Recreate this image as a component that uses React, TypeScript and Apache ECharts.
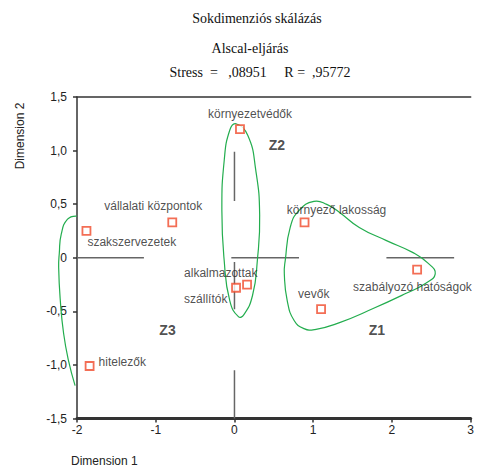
import React, { useEffect, useRef } from "react";
import * as echarts from "echarts";

// ---- data ----
const names = [
  "környezetvédők",
  "vállalati központok",
  "szakszervezetek",
  "hitelezők",
  "környező lakosság",
  "szabályozó hatóságok",
  "vevők",
  "alkalmazottak",
  "szállítók",
];
const dim1 = [0.07, -0.79, -1.88, -1.84, 0.89, 2.32, 1.1, 0.16, 0.02];
const dim2 = [1.2, 0.33, 0.25, -1.01, 0.33, -0.11, -0.48, -0.25, -0.28];

const clusterNames = ["Z1", "Z2", "Z3"];
const clusterX = [1.81, 0.54, -0.85];
const clusterY = [-0.67, 1.05, -0.67];

// outlines of clusters
const z2Outline = [
  [0.02, 1.25], [0.17, 1.14], [0.27, 0.82], [0.32, 0.4], [0.29, -0.03],
  [0.23, -0.35], [0.12, -0.53], [0.05, -0.55], [-0.06, -0.4], [-0.13, -0.03],
  [-0.16, 0.44], [-0.13, 0.91], [-0.06, 1.19],
];
const z1Outline = [
  [0.645, -0.025], [0.708, 0.283], [0.821, 0.442], [1.009, 0.526], [1.172, 0.498],
  [1.335, 0.423], [1.585, 0.283], [1.924, 0.162], [2.262, 0.05], [2.462, -0.053],
  [2.55, -0.15], [2.425, -0.24], [2.174, -0.334], [1.761, -0.474], [1.335, -0.605],
  [1.021, -0.67], [0.883, -0.661], [0.758, -0.586], [0.67, -0.399], [0.633, -0.147],
];
const z3Outline = [
  [-2.003, 0.389], [-2.12, 0.36], [-2.2, 0.22], [-2.225, 0.04], [-2.233, -0.088],
  [-2.212, -0.399], [-2.17, -0.707], [-2.108, -0.96], [-2.024, -1.193],
];

// broken reference cross at origin
const hRefSegments = [
  [-2, -1.15], [-0.04, 0.82], [1.93, 2.79],
];
const vRefSegments = [
  [0.99, 0.53], [-0.04, -0.48], [-1.05, -1.5],
];

const xTicks = [-2, -1, 0, 1, 2, 3];
const yTicks = [-1.5, -1, -0.5, 0, 0.5, 1, 1.5];

// ---- layout of point labels (pixel offsets from the marker) ----
const labelLayout: Record<string, { dx: number; dy: number; align: string }> = {
  "környezetvédők": { dx: 10, dy: -15, align: "center" },
  "vállalati központok": { dx: -19, dy: -16, align: "center" },
  "szakszervezetek": { dx: 1, dy: 11, align: "left" },
  "hitelezők": { dx: 9, dy: -4, align: "left" },
  "környező lakosság": { dx: 32, dy: -12, align: "center" },
  "szabályozó hatóságok": { dx: -64, dy: 17, align: "left" },
  "vevők": { dx: -23, dy: -15, align: "left" },
  "alkalmazottak": { dx: -63, dy: -12, align: "left" },
  "szállítók": { dx: -52, dy: 11, align: "left" },
};

const SANS = "'Liberation Sans', Arial, sans-serif";
const SERIF = "'Liberation Serif', 'Times New Roman', serif";
const GREEN = "#23ad4e";

function outlineSeries(pts: number[][], closed: boolean) {
  return {
    type: "custom",
    coordinateSystem: "cartesian2d",
    clip: false,
    silent: true,
    z: 3,
    data: pts,
    encode: { x: 0, y: 1 },
    renderItem: (params: any, api: any) => {
      if (params.dataIndex !== 0) return null;
      const p = pts.map((d) => api.coord(d));
      return {
        type: closed ? "polygon" : "polyline",
        shape: { points: p, smooth: 0.5 },
        style: { stroke: GREEN, lineWidth: 1.2, fill: "none" },
      };
    },
  };
}

export default function App() {
  const ref = useRef<HTMLDivElement>(null);

  useEffect(() => {
    if (!ref.current) return;
    const chart = echarts.init(ref.current, null, { renderer: "svg" });

    const fmtY = (v: number) => (v === 0 ? "0" : v.toFixed(1).replace(".", ","));

    const refLineData: any[] = [];
    hRefSegments.forEach(([a, b]) => {
      refLineData.push([a, 0], [b, 0], ["-", "-"]);
    });
    vRefSegments.forEach(([a, b]) => {
      refLineData.push([0, a], [0, b], ["-", "-"]);
    });

    const option: any = {
      animation: false,
      backgroundColor: "#ffffff",
      grid: { left: 77, top: 97, width: 399, height: 321.5, containLabel: false },
      graphic: [
        {
          type: "text",
          x: 257,
          y: 18,
          style: {
            text: "Sokdimenziós skálázás",
            font: `14px ${SERIF}`,
            fill: "#111",
            textAlign: "center",
            textVerticalAlign: "middle",
          },
        },
        {
          type: "text",
          x: 250,
          y: 48,
          style: {
            text: "Alscal-eljárás",
            font: `14px ${SERIF}`,
            fill: "#111",
            textAlign: "center",
            textVerticalAlign: "middle",
          },
        },
        {
          type: "text",
          x: 260,
          y: 72,
          style: {
            text: "Stress  =   ,08951     R =  ,95772",
            font: `14px ${SERIF}`,
            fill: "#111",
            textAlign: "center",
            textVerticalAlign: "middle",
          },
        },
        {
          type: "text",
          x: 20,
          y: 136,
          rotation: Math.PI / 2,
          style: {
            text: "Dimension 2",
            font: `12px ${SANS}`,
            fill: "#222",
            textAlign: "center",
            textVerticalAlign: "middle",
          },
        },
        {
          type: "text",
          x: 71,
          y: 461,
          style: {
            text: "Dimension 1",
            font: `12px ${SANS}`,
            fill: "#222",
            textAlign: "left",
            textVerticalAlign: "middle",
          },
        },
      ],
      xAxis: [
        {
          type: "value",
          min: xTicks[0],
          max: xTicks[xTicks.length - 1],
          interval: 1,
          position: "bottom",
          axisLine: { show: true, onZero: false, lineStyle: { color: "#333", width: 3 } },
          axisTick: { show: true, length: 4, lineStyle: { color: "#333", width: 1.5 } },
          axisLabel: { color: "#222", fontFamily: SANS, fontSize: 12, margin: 5 },
          splitLine: { show: false },
        },
        {
          type: "value",
          min: xTicks[0],
          max: xTicks[xTicks.length - 1],
          position: "top",
          axisLine: { show: true, onZero: false, lineStyle: { color: "#333", width: 1.5 } },
          axisTick: { show: false },
          axisLabel: { show: false },
          splitLine: { show: false },
        },
      ],
      yAxis: {
        type: "value",
        min: yTicks[0],
        max: yTicks[yTicks.length - 1],
        interval: 0.5,
        axisLine: { show: true, onZero: false, lineStyle: { color: "#333", width: 1.5 } },
        axisTick: { show: true, length: 4, lineStyle: { color: "#333", width: 1.5 } },
        axisLabel: {
          color: "#222",
          fontFamily: SANS,
          fontSize: 12,
          margin: 10,
          formatter: fmtY,
        },
        splitLine: { show: false },
      },
      series: [
        {
          type: "line",
          data: refLineData,
          symbol: "none",
          connectNulls: false,
          silent: true,
          lineStyle: { color: "#666", width: 1.5 },
          z: 2,
        },
        outlineSeries(z1Outline, true),
        outlineSeries(z2Outline, true),
        outlineSeries(z3Outline, false),
        {
          type: "scatter",
          symbol: "rect",
          symbolSize: 8,
          z: 5,
          itemStyle: { color: "#fff", borderColor: "#f04a2a", borderWidth: 1.8 },
          data: names.map((n, i) => {
            const lay = labelLayout[n];
            return {
              name: n,
              value: [dim1[i], dim2[i]],
              label: {
                show: true,
                position: "inside",
                formatter: n,
                offset: [lay.dx, lay.dy],
                align: lay.align,
                verticalAlign: "middle",
                color: "#222",
                fontFamily: SANS,
                fontSize: 12,
              },
            };
          }),
        },
        {
          type: "scatter",
          symbolSize: 0,
          silent: true,
          z: 5,
          data: clusterNames.map((n, i) => ({
            name: n,
            value: [clusterX[i], clusterY[i]],
            label: {
              show: true,
              position: "inside",
              formatter: n,
              color: "#222",
              fontFamily: SANS,
              fontWeight: "bold",
              fontSize: 14,
            },
          })),
        },
      ],
    };

    chart.setOption(option);
    return () => chart.dispose();
  }, []);

  return (
    <div
      ref={ref}
      style={{ position: "fixed", left: 0, top: 0, width: 477, height: 468, background: "#fff" }}
    />
  );
}
